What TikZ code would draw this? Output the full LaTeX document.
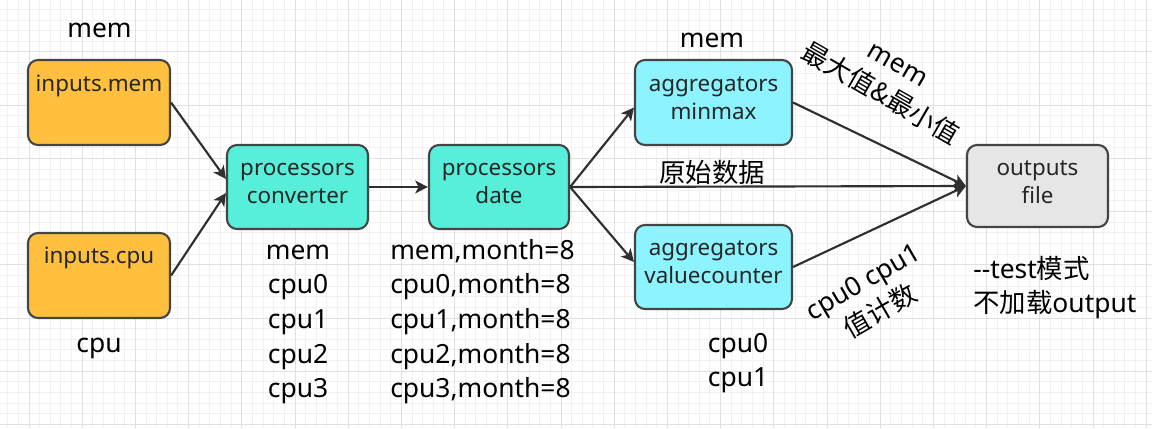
\documentclass[tikz,border=0pt]{standalone}
\usepackage{fontspec}
\setmainfont{Noto Sans}
\newfontfamily\cjk{Noto Sans CJK SC}
\usetikzlibrary{arrows.meta,calc}
\definecolor{gridminor}{HTML}{F1F1F1}
\definecolor{gridmajor}{HTML}{E0E0E0}
\definecolor{edge}{HTML}{2F2F2F}
\definecolor{orangefill}{HTML}{FFBF3F}
\definecolor{tealfill}{HTML}{57EFDA}
\definecolor{cyanfill}{HTML}{8CF3FF}
\definecolor{grayfill}{HTML}{E6E6E6}
\begin{document}
\begin{tikzpicture}[x=0.75pt,y=-0.75pt,
  box/.style={draw=edge!90,line width=1.6pt,rounded corners=7.5pt,inner sep=0pt},
  boxtext/.style={font=\fontsize{16.8}{21}\selectfont,align=center,inner sep=0pt,text=black!85},
  lbl/.style={font=\fontsize{19.8}{26}\selectfont,inner sep=0pt},
  conn/.style={draw=edge,line width=1.6pt},
  arr/.style={conn,-{Stealth[length=9.5pt,width=9.5pt,inset=2.5pt]}},
  gmin/.style={draw=gridminor,line width=0.75pt},
  gmaj/.style={draw=gridmajor,line width=0.75pt}]
\useasboundingbox (0,0) rectangle (1152,428);
\fill[white] (0,0) rectangle (1152,428);
% grid
\begin{scope}
\clip (0,0) rectangle (1152,428);
\foreach \k in {0,...,107}{\draw[gmin] ({7.72+10.64*\k},0) -- ({7.72+10.64*\k},428);}
\foreach \k in {0,...,40}{\draw[gmin] (0,{-1.2+10.64*\k}) -- (1152,{-1.2+10.64*\k});}
\foreach \k in {0,...,21}{\draw[gmaj] ({29+53.2*\k},0) -- ({29+53.2*\k},428);}
\foreach \k in {0,...,8}{\draw[gmaj] (0,{-1.2+53.2*\k}) -- (1152,{-1.2+53.2*\k});}
\end{scope}
% boxes
\node[box,fill=orangefill,minimum width=106.5pt,minimum height=63.75pt] (imem) at (99,102.5) {};
\node[box,fill=orangefill,minimum width=106.5pt,minimum height=63.75pt] (icpu) at (99,275.5) {};
\node[box,fill=tealfill,minimum width=105.75pt,minimum height=63pt] (conv) at (297.5,187) {};
\node[box,fill=tealfill,minimum width=105pt,minimum height=63pt] (date) at (499,187) {};
\node[box,fill=cyanfill,minimum width=117.75pt,minimum height=63.75pt] (mm) at (713.5,102.5) {};
\node[box,fill=cyanfill,minimum width=117.75pt,minimum height=63pt] (vc) at (713.5,267) {};
\node[box,fill=grayfill,minimum width=105.75pt,minimum height=61.5pt] (out) at (1037.5,186) {};
% box texts
\node[boxtext,anchor=base] (imemT) at (99,91) {inputs.mem};
\node[boxtext,anchor=base] (icpuT) at (99,263) {inputs.cpu};
\node[boxtext] (convT) at (297.5,183.4) {\strut processors\\\strut converter};
\node[boxtext] (dateT) at (499,183.4) {\strut processors\\\strut date};
\node[boxtext] (mmT) at (713.5,99.4) {\strut aggregators\\\strut minmax};
\node[boxtext] (vcT) at (713.5,263.4) {\strut aggregators\\\strut valuecounter};
\node[boxtext] (outT) at (1037.5,183.4) {\strut outputs\\\strut file};
% connectors
\draw[arr] (imem.east) -- ($(conv.west)+(0,-8)$);
\draw[arr] (icpu.east) -- ($(conv.west)+(0,6)$);
\draw[arr] (conv.east) -- (date.west);
\draw[arr] (date.east) -- ($(mm.west)+(0,5)$);
\draw[arr] (date.east) -- ($(vc.west)+(0,-5)$);
\draw[arr] (date.east) -- (out.west);
\draw[arr] (mm.east) -- (out.west);
\draw[arr] (vc.east) -- (out.west);
% labels
\node[lbl,anchor=base] (memL) at (99.5,38) {mem};
\node[lbl,anchor=base] (cpuL) at (99,352) {cpu};
\node[lbl,anchor=base] (memA) at (712,48) {mem};
\node[lbl,anchor=base] (rawL) at (712,182) {\cjk 原始数据};
\node[lbl,align=center] (convL) at (298,321.4) {\strut mem\\\strut cpu0\\\strut cpu1\\\strut cpu2\\\strut cpu3};
\node[lbl,align=left,anchor=west] (dateL) at (390,321.4) {\strut mem,month=8\\\strut cpu0,month=8\\\strut cpu1,month=8\\\strut cpu2,month=8\\\strut cpu3,month=8};
\node[lbl,align=center] (vcL) at (738,362.4) {\strut cpu0\\\strut cpu1};
\node[lbl,align=left,anchor=west] (testL) at (973,288.4) {\strut -\kern0pt-test{\cjk 模式}\\\strut{\cjk 不加载}output};
\node[lbl,align=center,rotate=-30] (mmL) at (888,81) {mem\\{\cjk 最大值\&最小值}};
\node[lbl,align=center,rotate=30] (vcR) at (872,297) {cpu0 cpu1\\{\cjk 值计数}};
\end{tikzpicture}
\end{document}
